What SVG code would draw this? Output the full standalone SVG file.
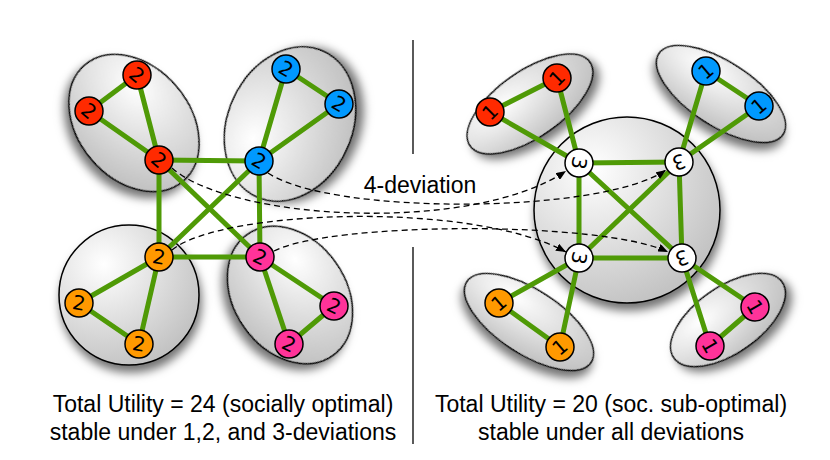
<svg xmlns="http://www.w3.org/2000/svg" width="830" height="460" viewBox="0 0 830 460">
<style>
.grp{fill:url(#gg);stroke:#000;stroke-width:1.5;filter:url(#sh)}
.e{stroke:#4f9a06;stroke-width:5;stroke-linecap:round;fill:none}
.d{stroke:#000;stroke-width:1.3;stroke-dasharray:6 4;fill:none}
.n{stroke:#000;stroke-width:1.5}
.num{font-family:"DejaVu Sans",sans-serif;font-size:20px;text-anchor:middle;dominant-baseline:central;fill:#000}
.lbl{font-family:"Liberation Sans",Arial,sans-serif;font-size:23px;text-anchor:middle;fill:#000}
.red{fill:#ff2a00}.blue{fill:#0099ff}.orange{fill:#ff9900}.pink{fill:#ff3399}.white{fill:#fff}
</style>
<defs>
<radialGradient id="gg" cx="32%" cy="28%" r="90%">
<stop offset="0" stop-color="#ffffff"/>
<stop offset="1" stop-color="#b8b8b8"/>
</radialGradient>
<filter id="sh" x="-30%" y="-30%" width="160%" height="170%">
<feDropShadow dx="2" dy="7" stdDeviation="5" flood-color="#000" flood-opacity="0.55"/>
</filter>
<marker id="ar" viewBox="0 0 10 8" refX="10" refY="4" markerWidth="10" markerHeight="8" markerUnits="userSpaceOnUse" orient="auto">
<path d="M0,0 L10,4 L0,8 Z" fill="#000"/>
</marker>
</defs>
<rect width="830" height="460" fill="#fff"/>

<g id="groups">
<ellipse class="grp" cx="134" cy="123" rx="76" ry="56" transform="rotate(50 134 123)"/>
<ellipse class="grp" cx="290" cy="124" rx="80" ry="62" transform="rotate(-65 290 124)"/>
<ellipse class="grp" cx="129" cy="295" rx="70" ry="70"/>
<ellipse class="grp" cx="290" cy="295" rx="74" ry="56" transform="rotate(55 290 295)"/>
<circle class="grp" cx="627" cy="210" r="93"/>
<ellipse class="grp" cx="530" cy="104" rx="73" ry="33" transform="rotate(-35 530 104)"/>
<ellipse class="grp" cx="721" cy="94" rx="74" ry="32" transform="rotate(33 721 94)"/>
<ellipse class="grp" cx="529" cy="322" rx="74" ry="32" transform="rotate(33 529 322)"/>
<ellipse class="grp" cx="728" cy="320" rx="66" ry="33" transform="rotate(-35 728 320)"/>
</g>

<g id="divider" stroke="#000" stroke-width="1.3">
<line x1="413" y1="40" x2="413" y2="154"/>
<line x1="413" y1="247" x2="413" y2="444"/>
</g>

<g id="connectors">
<line class="e" x1="137" y1="75" x2="89" y2="111"/>
<line class="e" x1="137" y1="75" x2="159" y2="160"/>
<line class="e" x1="89" y1="111" x2="159" y2="160"/>
<line class="e" x1="286" y1="69" x2="339" y2="104"/>
<line class="e" x1="286" y1="69" x2="259" y2="161"/>
<line class="e" x1="339" y1="104" x2="259" y2="161"/>
<line class="e" x1="159" y1="257" x2="79" y2="303"/>
<line class="e" x1="159" y1="257" x2="139" y2="344"/>
<line class="e" x1="79" y1="303" x2="139" y2="344"/>
<line class="e" x1="260" y1="257" x2="334" y2="306"/>
<line class="e" x1="260" y1="257" x2="289" y2="344"/>
<line class="e" x1="334" y1="306" x2="289" y2="344"/>
<line class="e" x1="159" y1="160" x2="259" y2="161"/>
<line class="e" x1="159" y1="160" x2="159" y2="257"/>
<line class="e" x1="259" y1="161" x2="260" y2="257"/>
<line class="e" x1="159" y1="257" x2="260" y2="257"/>
<line class="e" x1="159" y1="160" x2="260" y2="257"/>
<line class="e" x1="259" y1="161" x2="159" y2="257"/>
<line class="e" x1="557" y1="78" x2="490" y2="112"/>
<line class="e" x1="557" y1="78" x2="579" y2="163"/>
<line class="e" x1="490" y1="112" x2="579" y2="163"/>
<line class="e" x1="706" y1="71" x2="759" y2="106"/>
<line class="e" x1="706" y1="71" x2="679" y2="162"/>
<line class="e" x1="759" y1="106" x2="679" y2="162"/>
<line class="e" x1="499" y1="303" x2="560" y2="347"/>
<line class="e" x1="499" y1="303" x2="579" y2="258"/>
<line class="e" x1="560" y1="347" x2="579" y2="258"/>
<line class="e" x1="755" y1="307" x2="710" y2="346"/>
<line class="e" x1="755" y1="307" x2="682" y2="258"/>
<line class="e" x1="710" y1="346" x2="682" y2="258"/>
<line class="e" x1="579" y1="163" x2="679" y2="162"/>
<line class="e" x1="579" y1="163" x2="579" y2="258"/>
<line class="e" x1="679" y1="162" x2="682" y2="258"/>
<line class="e" x1="579" y1="258" x2="682" y2="258"/>
<line class="e" x1="579" y1="163" x2="682" y2="258"/>
<line class="e" x1="679" y1="162" x2="579" y2="258"/>
<path class="d" d="M268,173 C330,215 600,215 666,170" marker-end="url(#ar)"/>
<path class="d" d="M172,168 C230,220 470,235 566,171" marker-end="url(#ar)"/>
<path class="d" d="M172,250 C220,210 470,200 566,252" marker-end="url(#ar)"/>
<path class="d" d="M274,251 C330,222 600,220 668,252" marker-end="url(#ar)"/>
</g>

<g id="nodes">
<g id="n-red-a"><circle class="n red" cx="137" cy="75" r="14"/><text class="num" x="137" y="75" transform="rotate(40 137 75)">2</text></g>
<g id="n-red-b"><circle class="n red" cx="89" cy="111" r="14"/><text class="num" x="89" y="111" transform="rotate(40 89 111)">2</text></g>
<g id="n-red-h"><circle class="n red" cx="159" cy="160" r="14"/><text class="num" x="159" y="160" transform="rotate(40 159 160)">2</text></g>
<g id="n-blue-a"><circle class="n blue" cx="286" cy="69" r="14"/><text class="num" x="286" y="69" transform="rotate(30 286 69)">2</text></g>
<g id="n-blue-b"><circle class="n blue" cx="339" cy="104" r="14"/><text class="num" x="339" y="104" transform="rotate(30 339 104)">2</text></g>
<g id="n-blue-h"><circle class="n blue" cx="259" cy="161" r="14"/><text class="num" x="259" y="161" transform="rotate(30 259 161)">2</text></g>
<g id="n-orange-h"><circle class="n orange" cx="159" cy="257" r="14"/><text class="num" x="159" y="257" transform="rotate(10 159 257)">2</text></g>
<g id="n-orange-a"><circle class="n orange" cx="79" cy="303" r="14"/><text class="num" x="79" y="303" transform="rotate(10 79 303)">2</text></g>
<g id="n-orange-b"><circle class="n orange" cx="139" cy="344" r="14"/><text class="num" x="139" y="344" transform="rotate(10 139 344)">2</text></g>
<g id="n-pink-h"><circle class="n pink" cx="260" cy="257" r="14"/><text class="num" x="260" y="257" transform="rotate(25 260 257)">2</text></g>
<g id="n-pink-a"><circle class="n pink" cx="334" cy="306" r="14"/><text class="num" x="334" y="306" transform="rotate(25 334 306)">2</text></g>
<g id="n-pink-b"><circle class="n pink" cx="289" cy="344" r="14"/><text class="num" x="289" y="344" transform="rotate(25 289 344)">2</text></g>

<g id="m-red-a"><circle class="n red" cx="557" cy="78" r="14"/><text class="num" x="557" y="78" transform="rotate(-45 557 78)">1</text></g>
<g id="m-red-b"><circle class="n red" cx="490" cy="112" r="14"/><text class="num" x="490" y="112" transform="rotate(-45 490 112)">1</text></g>
<g id="m-blue-a"><circle class="n blue" cx="706" cy="71" r="14"/><text class="num" x="706" y="71" transform="rotate(-40 706 71)">1</text></g>
<g id="m-blue-b"><circle class="n blue" cx="759" cy="106" r="14"/><text class="num" x="759" y="106" transform="rotate(-40 759 106)">1</text></g>
<g id="m-orange-a"><circle class="n orange" cx="499" cy="303" r="14"/><text class="num" x="499" y="303" transform="rotate(-40 499 303)">1</text></g>
<g id="m-orange-b"><circle class="n orange" cx="560" cy="347" r="14"/><text class="num" x="560" y="347" transform="rotate(-40 560 347)">1</text></g>
<g id="m-pink-a"><circle class="n pink" cx="755" cy="307" r="14"/><text class="num" x="755" y="307" transform="rotate(60 755 307)">1</text></g>
<g id="m-pink-b"><circle class="n pink" cx="710" cy="346" r="14"/><text class="num" x="710" y="346" transform="rotate(60 710 346)">1</text></g>
<g id="m-3-tl"><circle class="n white" cx="579" cy="163" r="14"/><text class="num" x="579" y="163" transform="rotate(100 579 163)">3</text></g>
<g id="m-3-tr"><circle class="n white" cx="679" cy="162" r="14"/><text class="num" x="679" y="162" transform="rotate(160 679 162)">3</text></g>
<g id="m-3-bl"><circle class="n white" cx="579" cy="258" r="14"/><text class="num" x="579" y="258" transform="rotate(100 579 258)">3</text></g>
<g id="m-3-br"><circle class="n white" cx="682" cy="258" r="14"/><text class="num" x="682" y="258" transform="rotate(160 682 258)">3</text></g>
</g>

<g id="labels">
<text class="lbl" x="420" y="193">4-deviation</text>
<text class="lbl" x="223" y="412">Total Utility = 24 (socially optimal)</text>
<text class="lbl" x="223" y="440">stable under 1,2, and 3-deviations</text>
<text class="lbl" x="611" y="412">Total Utility = 20 (soc. sub-optimal)</text>
<text class="lbl" x="611" y="440">stable under all deviations</text>
</g>
</svg>
